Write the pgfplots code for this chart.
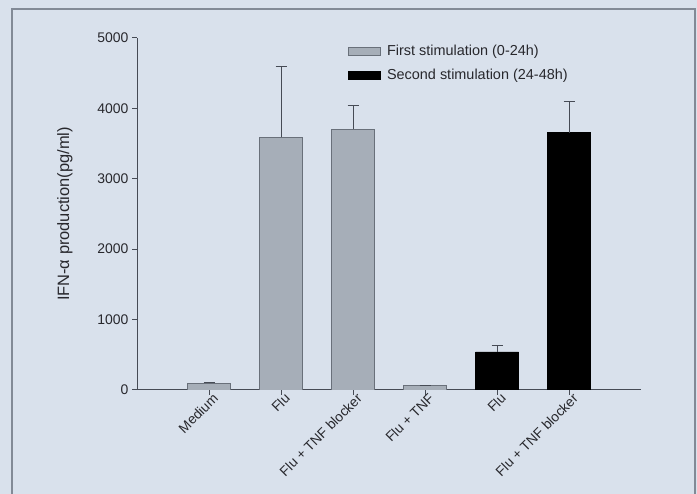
\documentclass[border=0pt]{standalone}
\usepackage{fontspec}
\setmainfont{Liberation Sans}
\usepackage{pgfplots}
\pgfplotsset{compat=1.18}
\definecolor{bg}{RGB}{217,225,236}
\definecolor{framec}{RGB}{130,138,150}
\definecolor{axisc}{RGB}{70,75,85}
\definecolor{barg}{RGB}{166,174,184}
\definecolor{bare}{RGB}{105,112,122}
\definecolor{txt}{RGB}{40,40,45}
\begin{document}
\begin{tikzpicture}[x=1bp,y=1bp]
\fill[bg] (0,0) rectangle (697,494);
\path[use as bounding box] (0,0) rectangle (697,494);
\draw[framec, line width=1.3bp] (12,-10) -- (12,485) -- (695,485) -- (695,-10);
\begin{axis}[
  at={(137bp,104bp)}, anchor=south west,
  scale only axis, width=504bp, height=352bp,
  xmin=-1, xmax=6, ymin=0, ymax=5000,
  axis x line*=bottom, axis y line*=left,
  axis line style={axisc, line width=1bp, -},
  ytick={0,1000,2000,3000,4000,5000},
  xtick={0,1,2,3,4,5},
  xticklabels={Medium, Flu, Flu + TNF blocker, Flu + TNF, Flu, Flu + TNF blocker},
  x tick label style={rotate=45, anchor=north east, font=\fontsize{13.8}{14}\selectfont, text=txt, inner sep=1bp, xshift=5bp, yshift=1bp},
  y tick label style={font=\fontsize{14}{15}\selectfont, text=txt},
  tick align=outside, major tick length=5bp,
  tick style={axisc, line width=1bp},
  /pgf/number format/assume math mode=true,
  /pgf/number format/1000 sep={},
  ylabel={IFN-α production(pg/ml)},
  ylabel style={at={(axis description cs:-0.143,0.5)}, anchor=center, font=\fontsize{16.5}{18}\selectfont, text=txt},
  legend style={draw=none, fill=none, at={(0.4187,0.985)}, anchor=north west,
    font=\fontsize{14.5}{15}\selectfont, text=txt, row sep=7.5bp, column sep=4bp, inner sep=0pt,
    nodes={inner sep=2bp}},
  legend cell align=left,
  legend image code/.code={\draw[#1] (0bp,-4bp) rectangle (32bp,4bp);},
]
\addplot[ybar, bar width=43bp, bar shift=0pt, fill=barg, draw=bare, line width=0.8bp,
  error bars/.cd, y dir=plus, y explicit,
  error bar style={axisc, line width=1bp},
  error mark options={rotate=90, axisc, line width=1bp, mark size=5.5bp}]
  table[x=x, y=y, y error=e] {
x y e
0 97 12
1 3590 1000
2 3706 328
3 68 0
};
\addlegendentry{First stimulation (0-24h)}
\addplot[ybar, bar width=43bp, bar shift=0pt, fill=black, draw=black, line width=0.8bp,
  error bars/.cd, y dir=plus, y explicit,
  error bar style={axisc, line width=1bp},
  error mark options={rotate=90, axisc, line width=1bp, mark size=5.5bp}]
  table[x=x, y=y, y error=e] {
x y e
4 540 90
5 3655 440
};
\addlegendentry{Second stimulation (24-48h)}
\end{axis}
\end{tikzpicture}
\end{document}
